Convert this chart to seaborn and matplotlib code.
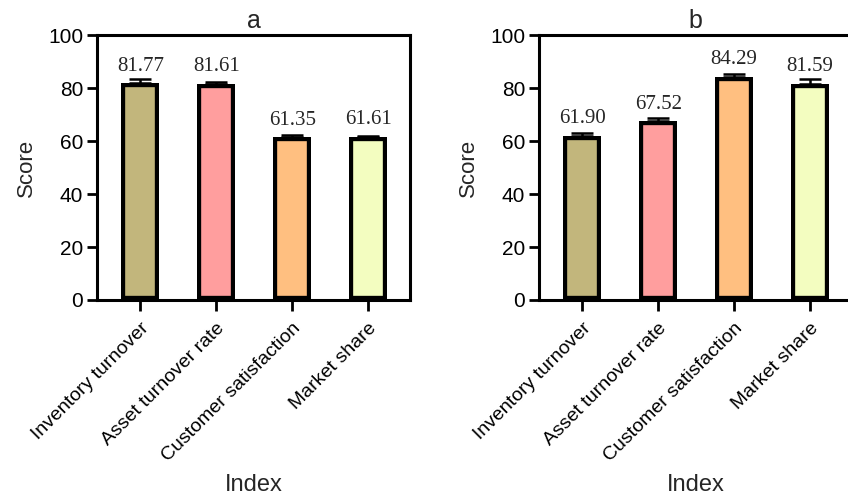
import matplotlib
matplotlib.use("Agg")
import matplotlib.pyplot as plt
import seaborn as sns
import pandas as pd

# категории и значения двух панелей
categories = ["Inventory turnover", "Asset turnover rate", "Customer satisfaction", "Market share"]
scores_a = [81.77, 81.61, 61.35, 61.61]
errors_a = [1.5, 0.6, 1.1, 0.4]
scores_b = [61.90, 67.52, 84.29, 81.59]
errors_b = [1.3, 1.0, 0.9, 1.8]
bar_colors = ["#C2B67C", "#FF9E9E", "#FFBF80", "#F3FDC0"]

sns.set_theme(style="white")
plt.rcParams["font.family"] = ["Liberation Sans", "DejaVu Sans"]

fig = plt.figure(figsize=(8.48, 4.98), dpi=100)
ax_a = fig.add_axes([0.1144, 0.3976, 0.369, 0.532])
ax_b = fig.add_axes([0.6356, 0.3976, 0.369, 0.532])


def draw_panel(ax, scores, errors, title):
    df = pd.DataFrame({"Index": categories, "Score": scores})
    sns.barplot(data=df, x="Index", y="Score", hue="Index", palette=bar_colors, saturation=1,
                width=0.5, edgecolor="black", linewidth=6.0, legend=False, ax=ax)
    # обводка внутри столбца, как в GraphPad
    for p in ax.patches:
        p.set_clip_path(p)
    # только верхние «усы»
    ax.errorbar(range(len(categories)), scores, yerr=[[0] * len(errors), errors],
                fmt="none", ecolor="black", elinewidth=1.8, capsize=8, capthick=1.8, zorder=1)
    for i, v in enumerate(scores):
        ax.annotate(f"{v:.2f}", (i, v), xytext=(0, 9), textcoords="offset points",
                    ha="center", va="baseline", fontsize=15, family="Liberation Serif")

    ax.set_ylim(0, 100)
    ax.set_xlim(-0.57, 3.55)
    ax.set_yticks([0, 20, 40, 60, 80, 100])
    ax.set_title(title, fontsize=18, pad=5)
    ax.set_ylabel("Score", fontsize=16, labelpad=8)
    ax.set_xlabel("Index", fontsize=17)
    ax.xaxis.set_label_coords(0.5, -0.70)
    ax.xaxis.label.set_va("center")
    ax.set_xticks(range(len(categories)))
    ax.set_xticklabels(categories, rotation=45, ha="right", rotation_mode="anchor", fontsize=14)
    ax.tick_params(axis="y", labelsize=15, length=7, width=2.0, direction="out", left=True,
                   colors="black", pad=3)
    ax.tick_params(axis="x", length=8, width=2.0, direction="out", bottom=True, colors="black",
                   pad=6)
    for s in ax.spines.values():
        s.set_linewidth(2.2)
        s.set_color("black")


draw_panel(ax_a, scores_a, errors_a, "a")
draw_panel(ax_b, scores_b, errors_b, "b")

fig.savefig("out.png", dpi=100)
plt.close(fig)
